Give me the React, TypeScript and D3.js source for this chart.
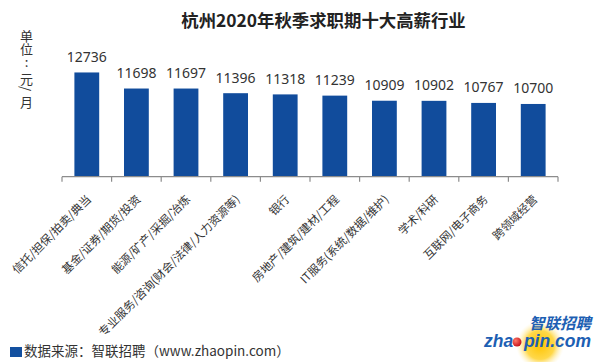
import React from "react";
import * as d3 from "d3";

const title = "杭州2020年秋季求职期十大高薪行业";
const unitParts = ["单位", ":", "元", "/", "月"];
const categories = [
  "信托/担保/拍卖/典当",
  "基金/证券/期货/投资",
  "能源/矿产/采掘/冶炼",
  "专业服务/咨询(财会/法律/人力资源等)",
  "银行",
  "房地产/建筑/建材/工程",
  "IT服务(系统/数据/维护)",
  "学术/科研",
  "互联网/电子商务",
  "跨领域经营",
];
const salaries = [12736, 11698, 11697, 11396, 11318, 11239, 10909, 10902, 10767, 10700];
const yDomain = [6000, 14000];
const sourceText = "数据来源：智联招聘（www.zhaopin.com）";

const W = 600;
const H = 362;
const FONT = "'Noto Sans', 'Noto Sans CJK SC', sans-serif";
const CJK = "'Noto Sans CJK SC', sans-serif";

export default function App() {
  const x = d3.scaleBand<string>().domain(categories).range([62, 558]).paddingInner(0.5).paddingOuter(0.25);
  const y = d3.scaleLinear().domain(yDomain).range([176.7, 52.9]);
  const base = y(yDomain[0]);
  const step = x.step();
  const ticks = d3.range(categories.length + 1).map((i) => 62 + i * step);

  return (
    <svg width={W} height={H} style={{ position: "absolute", left: 0, top: 0, background: "#fff" }}>
      <defs>
        <radialGradient id="glow" cx="50%" cy="50%" r="50%">
          <stop offset="0%" stopColor="#ffc400" />
          <stop offset="60%" stopColor="#ffd84a" />
          <stop offset="100%" stopColor="#fff3c4" stopOpacity="0" />
        </radialGradient>
        <radialGradient id="ball" cx="35%" cy="35%" r="65%">
          <stop offset="0%" stopColor="#ff7a6a" />
          <stop offset="100%" stopColor="#c8161d" />
        </radialGradient>
      </defs>
      <rect width={W} height={H} fill="#fff" />
      <text x={323.5} y={27} textAnchor="middle" fontFamily={CJK} fontWeight="bold" fontSize={17.4} fill="#222">
        {title}
      </text>
      <text
        x={26.5}
        y={30}
        fontFamily={CJK}
        fontSize={13}
        fill="#333"
        style={{ writingMode: "vertical-rl", textOrientation: "mixed" } as React.CSSProperties}
      >
        {unitParts[0]}
        <tspan style={{ textOrientation: "upright", letterSpacing: "4px" } as React.CSSProperties}>{unitParts[1]}</tspan>
        {unitParts[2]}
        <tspan style={{ letterSpacing: "4px" } as React.CSSProperties}>{unitParts[3]}</tspan>
        {unitParts[4]}
      </text>
      {categories.map((c, i) => (
        <rect
          key={c}
          x={x(c)}
          y={y(salaries[i])}
          width={x.bandwidth()}
          height={base - y(salaries[i])}
          fill="#114c9c"
        />
      ))}
      {categories.map((c, i) => (
        <text
          key={"v" + c}
          x={(x(c) as number) + x.bandwidth() / 2}
          y={y(salaries[i]) - 10.5}
          textAnchor="middle"
          fontFamily={FONT}
          fontSize={14}
          fill="#333"
        >
          {salaries[i]}
        </text>
      ))}
      <line x1={62} x2={558} y1={base} y2={base} stroke="#8c8c8c" strokeWidth={1.2} />
      {ticks.map((t, i) => (
        <line key={"t" + i} x1={t} x2={t} y1={base} y2={base + 5} stroke="#8c8c8c" strokeWidth={1.2} />
      ))}
      {categories.map((c) => {
        const cx = (x(c) as number) + x.bandwidth() / 2 + 5;
        const ly = 200;
        return (
          <text
            key={"l" + c}
            x={cx}
            y={ly}
            textAnchor="end"
            fontFamily={CJK}
            fontSize={11.5}
            fill="#333"
            transform={`rotate(-45 ${cx} ${ly})`}
          >
            {c}
          </text>
        );
      })}
      <rect x={10} y={347} width={12} height={10} fill="#1350a0" />
      <text x={24} y={356} fontFamily={CJK} fontSize={13.5} fill="#333">
        {sourceText}
      </text>
      <g>
        <circle cx={540} cy={345} r={24} fill="url(#glow)" />
        <text x={591} y={329} textAnchor="end" fontFamily={CJK} fontWeight="bold" fontStyle="italic" fontSize={15.5} fill="#1d5fb3">
          智联招聘
        </text>
        <text x={591} y={347} textAnchor="end" fontFamily="'Liberation Sans', Arial, sans-serif" fontWeight="bold" fontStyle="italic" fontSize={17.5} fill="#1d5fb3">
          zha<tspan fill="none">o</tspan>pin.com
        </text>
        <circle cx={517} cy={342} r={4.5} fill="url(#ball)" />
      </g>
    </svg>
  );
}
